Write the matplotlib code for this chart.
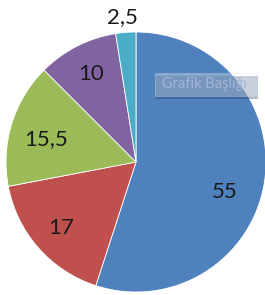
import numpy as np
import matplotlib
matplotlib.use("Agg")
import matplotlib.pyplot as plt
from matplotlib.patches import FancyBboxPatch

values = [55, 17, 15.5, 10, 2.5]
labels = ["55", "17", "15,5", "10", "2,5"]
colors = ["#4F81BD", "#C0504D", "#9BBB59", "#8064A2", "#4BACC6"]
label_dist = [0.72, 0.77, 0.71, 0.76, 1.12]
label_angle_shift = [-10, 0, 3, 0, 1]
title_text = "Grafik Başlığı"

W, H = 265, 295
fig = plt.figure(figsize=(W / 100, H / 100), dpi=100)
fig.patch.set_facecolor("white")
ax = fig.add_axes([6 / W, 3 / H, 260 / W, 260 / H])
wedges, _ = ax.pie(values, colors=colors, startangle=90, counterclock=False,
                   wedgeprops=dict(edgecolor="white", linewidth=0.6))
ax.set_xlim(-1, 1)
ax.set_ylim(-1, 1)
ax.set_aspect("equal")
ax.axis("off")

for w, lab, d, sh in zip(wedges, labels, label_dist, label_angle_shift):
    ang = np.deg2rad((w.theta1 + w.theta2) / 2 + sh)
    ax.text(d * np.cos(ang), d * np.sin(ang), lab, ha="center", va="center",
            fontsize=16, family="Lato", color="#1a1a1a")

# semi-transparent title box
x0, y0, bw, bh = 155 / W, 1 - 96 / H, 102 / W, 23 / H
shadow = FancyBboxPatch((x0 + 1 / W, y0 - 3 / H), bw, bh, boxstyle="square,pad=0",
                        transform=fig.transFigure, facecolor="#1f3c6a", alpha=0.35,
                        edgecolor="none")
box = FancyBboxPatch((x0, y0), bw, bh, boxstyle="square,pad=0",
                     transform=fig.transFigure, facecolor="white", alpha=0.3,
                     edgecolor="#d0dbee", linewidth=0.8)
fig.add_artist(shadow)
fig.add_artist(box)
fig.text(x0 + bw / 2 - 1 / W, y0 + bh / 2, title_text, ha="center", va="center",
         fontsize=10.5, family="Lato", color="#a3b6d8")

fig.savefig("out.png", dpi=100)
